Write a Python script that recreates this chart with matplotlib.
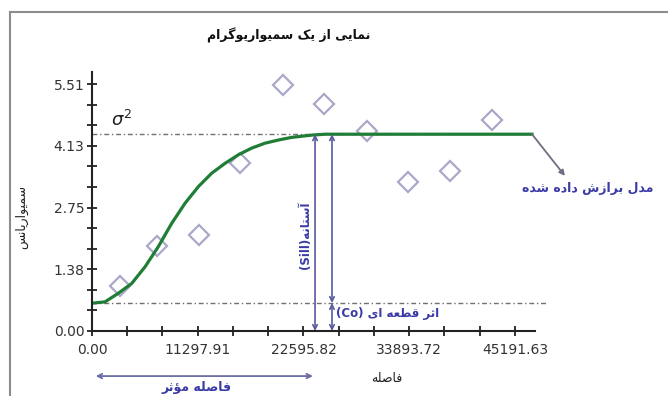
import matplotlib
matplotlib.use("Agg")
import matplotlib.pyplot as plt
from matplotlib.lines import Line2D

# --- data ---
lag = [3030, 6950, 11380, 15780, 20400, 24800, 29360, 33730, 38230, 42770]
gamma = [1.01, 1.89, 2.15, 3.75, 5.49, 5.07, 4.46, 3.33, 3.58, 4.71]

model_h = [0, 1390, 2800, 4240, 5660, 7080, 8510, 9940, 11360, 12790, 14210,
           15630, 17060, 18480, 19900, 21340, 23470, 24890, 47010]
model_g = [0.62, 0.65, 0.84, 1.06, 1.43, 1.88, 2.40, 2.85, 3.22, 3.52, 3.74,
           3.93, 4.08, 4.19, 4.26, 4.32, 4.37, 4.39, 4.39]

sill = 4.39
nugget = 0.625
eff_range = 23600

x_ticks = [0, 11297.91, 22595.82, 33893.72, 45191.63]
x_labels = ["0.00", "11297.91", "22595.82", "33893.72", "45191.63"]
y_ticks = [0, 1.3775, 2.755, 4.1325, 5.51]
y_labels = ["0.00", "1.38", "2.75", "4.13", "5.51"]

title = "نمایی از یک سمیواریوگرام"
ylabel = "سمیواریانس"
xlabel = "فاصله"
range_label = "فاصله مؤثر"
sill_label = "آستانه"
nugget_label = "اثر قطعه ای"
model_label = "مدل برازش داده شده"

# --- tiny Persian shaper (matplotlib has no shaping / bidi) ---
FORMS = {
    'ا': ('\uFE8D', '\uFE8E'), 'آ': ('\uFE81', '\uFE82'), 'ؤ': ('\uFE85', '\uFE86'),
    'د': ('\uFEA9', '\uFEAA'), 'ر': ('\uFEAD', '\uFEAE'), 'ز': ('\uFEAF', '\uFEB0'),
    'و': ('\uFEED', '\uFEEE'),
    'ب': ('\uFE8F', '\uFE90', '\uFE91', '\uFE92'), 'ت': ('\uFE95', '\uFE96', '\uFE97', '\uFE98'),
    'ث': ('\uFE99', '\uFE9A', '\uFE9B', '\uFE9C'), 'س': ('\uFEB1', '\uFEB2', '\uFEB3', '\uFEB4'),
    'ش': ('\uFEB5', '\uFEB6', '\uFEB7', '\uFEB8'), 'ص': ('\uFEB9', '\uFEBA', '\uFEBB', '\uFEBC'),
    'ط': ('\uFEC1', '\uFEC2', '\uFEC3', '\uFEC4'), 'ع': ('\uFEC9', '\uFECA', '\uFECB', '\uFECC'),
    'ف': ('\uFED1', '\uFED2', '\uFED3', '\uFED4'), 'ق': ('\uFED5', '\uFED6', '\uFED7', '\uFED8'),
    'ل': ('\uFEDD', '\uFEDE', '\uFEDF', '\uFEE0'), 'م': ('\uFEE1', '\uFEE2', '\uFEE3', '\uFEE4'),
    'ن': ('\uFEE5', '\uFEE6', '\uFEE7', '\uFEE8'), 'ه': ('\uFEE9', '\uFEEA', '\uFEEB', '\uFEEC'),
    'ک': ('\uFB8E', '\uFB8F', '\uFB90', '\uFB91'), 'گ': ('\uFB92', '\uFB93', '\uFB94', '\uFB95'),
    'ی': ('\uFBFC', '\uFBFD', '\uFBFE', '\uFBFF'),
}


def fa(text):
    out = []
    for i, c in enumerate(text):
        if c not in FORMS:
            out.append(c)
            continue
        prev = text[i - 1] if i > 0 else ''
        nxt = text[i + 1] if i + 1 < len(text) else ''
        jp = prev in FORMS and len(FORMS[prev]) == 4
        jn = len(FORMS[c]) == 4 and nxt in FORMS
        f = FORMS[c]
        if jp and jn:
            out.append(f[3])
        elif jp:
            out.append(f[1])
        elif jn:
            out.append(f[2])
        else:
            out.append(f[0])
    return ''.join(reversed(out))


blue = '#3b3ba6'
arrow_c = '#5a5a9e'

plt.rcParams['font.family'] = ['DejaVu Sans']
fig = plt.figure(figsize=(6.68, 3.96), dpi=100)
fig.patch.set_facecolor('white')

# outer gray frame
fig.add_artist(Line2D([10 / 668, 10 / 668], [0, 1 - 12 / 396], transform=fig.transFigure,
                      color='#8c8c8c', lw=1.5))
fig.add_artist(Line2D([10 / 668, 1], [1 - 12 / 396, 1 - 12 / 396], transform=fig.transFigure,
                      color='#8c8c8c', lw=1.5))

ax = fig.add_axes([92 / 668, 1 - 331 / 396, 443 / 668, 259 / 396])
ax.set_xlim(0, 47330)
ax.set_ylim(0, 5.778)

# reference lines
ax.plot([0, 47010], [sill, sill], color='#707070', lw=1, dashes=[3.5, 2, 1, 2])
ax.plot([0, 48610], [nugget, nugget], color='#707070', lw=1, dashes=[3.5, 2, 1, 2], clip_on=False)

# experimental points and fitted model
ax.plot(lag, gamma, linestyle='none', marker='D', ms=10.5, mfc='none', mec='#a9a9c9', mew=1.6)
ax.plot(model_h, model_g, color='#1f7d35', lw=2.3)

# vertical arrows (sill, partial sill, nugget)
ap = dict(arrowstyle='<->', color=arrow_c, lw=1.2, mutation_scale=8, shrinkA=0, shrinkB=0)
ax.annotate('', xy=(23830, sill), xytext=(23830, 0), arrowprops=ap, annotation_clip=False)
ax.annotate('', xy=(25640, sill), xytext=(25640, nugget), arrowprops=ap)
ax.annotate('', xy=(25640, nugget), xytext=(25640, 0), arrowprops=ap, annotation_clip=False)

# effective range arrow below the axis
xt = ax.get_xaxis_transform()
ax.annotate('', xy=(400, -0.174), xytext=(eff_range, -0.174), xycoords=xt,
            arrowprops=dict(arrowstyle='<->', color='#6b6ba6', lw=1.3, mutation_scale=8,
                            shrinkA=0, shrinkB=0), annotation_clip=False)
ax.text(11200, -0.218, fa(range_label), transform=xt, ha='center', va='center',
        color=blue, fontsize=9, fontweight='bold', clip_on=False)

# fitted-model pointer
ax.annotate('', xy=(50530, 3.46), xytext=(47010, sill),
            arrowprops=dict(arrowstyle='-|>', color='#6e6e82', lw=1.3, mutation_scale=8,
                            shrinkA=0, shrinkB=0), annotation_clip=False)
ax.text(52990, 3.19, fa(model_label), ha='center', va='center', color=blue,
        fontsize=9, fontweight='bold', clip_on=False)

# labels on the chart
ax.text(3200, 4.71, r'$\sigma^2$', fontsize=13, color='#222222', ha='center', va='center')
ax.text(22760, 2.14, '(Sill)' + fa(sill_label), rotation=90, ha='center', va='center',
        color=blue, fontsize=8.5, fontweight='bold')
ax.text(26070, 0.40, '(Co) ' + fa(nugget_label), ha='left', va='center', color=blue,
        fontsize=8.5, fontweight='bold')

# axes styling
for s in ['top', 'right']:
    ax.spines[s].set_visible(False)
for s in ['left', 'bottom']:
    ax.spines[s].set_linewidth(1.5)
    ax.spines[s].set_color('#222222')

ax.set_xticks(x_ticks)
ax.set_xticklabels(x_labels)
ax.set_xticks([i * 11297.91 / 3 for i in range(13)], minor=True)
ax.set_yticks(y_ticks)
ax.set_yticklabels(y_labels)
ax.set_yticks([i * 1.3775 / 3 for i in range(13)], minor=True)
ax.tick_params(which='both', direction='inout', length=7, width=1.3, color='#222222')
ax.tick_params(axis='x', which='major', labelsize=10, labelcolor='#333333', pad=5)
ax.tick_params(axis='y', which='major', labelsize=10, labelcolor='#333333', pad=2)

fig.text(289 / 668, 1 - 35 / 396, fa(title), ha='center', va='center', fontsize=9,
         fontweight='bold', color='#111111')
fig.text(22 / 668, 1 - 217 / 396, fa(ylabel), rotation=90, ha='center', va='center',
         fontsize=9, color='#222222')
fig.text(387 / 668, 1 - 378 / 396, fa(xlabel), ha='center', va='center', fontsize=9,
         color='#222222')

fig.savefig('out.png', dpi=100)
